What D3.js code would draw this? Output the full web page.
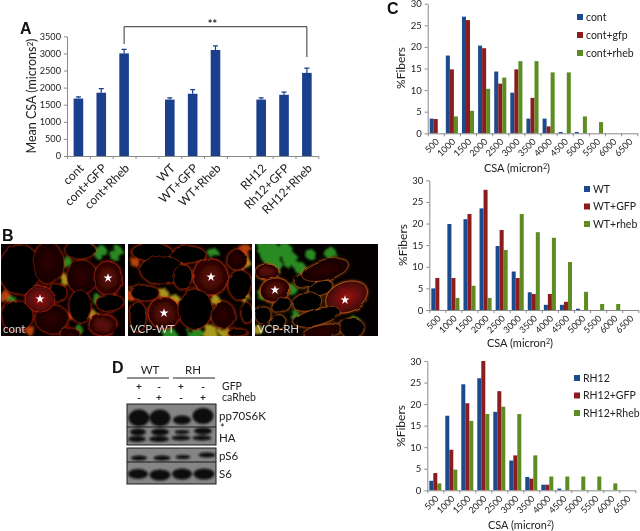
<!DOCTYPE html>
<html>
<head>
<meta charset="utf-8">
<script src="https://cdn.jsdelivr.net/npm/d3@7"></script>
<style>
  html, body { margin: 0; padding: 0; background: #fff; }
  svg { display: block; filter: blur(0.35px); }
  text { font-family: Lato, "Open Sans", sans-serif; fill: #222; }
  .letter { font-family: "Liberation Sans", Arial, sans-serif; font-weight: bold; font-size: 16px; fill: #111; }
  .axis path, .axis line { stroke: #8a8a8a; }
</style>
</head>
<body>
<svg id="fig" width="640" height="531"></svg>
<script>
// panel A
const meanCats = ["cont", "cont+GFP", "cont+Rheb", "gap1", "WT", "WT+GFP", "WT+Rheb", "gap2", "RH12", "Rh12+GFP", "RH12+Rheb"];
const meanVals = [1680, 1850, 3000, null, 1650, 1820, 3100, null, 1650, 1790, 2430];
const meanErrs = [50, 120, 120, null, 50, 120, 120, null, 50, 80, 140];
const meanTicks = [0, 500, 1000, 1500, 2000, 2500, 3000, 3500];

// panel C histograms
const bins = ["500", "1000", "1500", "2000", "2500", "3000", "3500", "4000", "4500", "5000", "5500", "6000", "6500"];
const pctTicks = [0, 5, 10, 15, 20, 25, 30];
const contVals = [3.4, 18, 27, 20.3, 14.3, 9.4, 3.4, 3.4, 0.3, 0.3, 0, 0, 0];
const contGfp = [3.3, 14.8, 26.2, 19.7, 11.5, 14.8, 8.2, 1.6, 0, 0, 0, 0, 0];
const contRheb = [0, 3.9, 5.2, 10.3, 12.9, 16.7, 16.7, 14.1, 14.1, 3.9, 2.6, 0, 0];
const wtVals = [5, 19.9, 21, 23.5, 14.8, 8.9, 4.1, 1.2, 1.2, 0.3, 0, 0, 0];
const wtGfp = [7.4, 7.4, 22.2, 27.8, 18.5, 7.4, 3.7, 3.7, 1.9, 0, 0, 0, 0];
const wtRheb = [0, 2.8, 5.6, 2.8, 13.9, 22.2, 18, 16.7, 11.1, 4.2, 1.4, 1.4, 0];
const rhVals = [2.2, 17.3, 24.6, 26, 18.2, 6.9, 3.1, 1.3, 0.4, 0, 0, 0, 0];
const rhGfp = [4, 9.4, 20.2, 30, 23, 8.1, 2.7, 1.3, 0, 0, 0, 0, 0];
const rhRheb = [1.6, 4.8, 16.1, 17.7, 19.4, 17.7, 8.1, 3.2, 3.2, 3.2, 3.2, 1.6, 0];

// panel B micrographs: fibres are [cx, cy, rx, ry, rotate, level]
const fibresCont = [[20,270,21,25,0,0],[48,263,15,21,0,1],[58,293,9,9,0,0],[17,316,16,15,0,0],[52,319,17,14,0,1],
  [40,299,15,13,0,3],[82,277,15,17,0,1],[80,306,11,16,0,0],[80,250,15,9,0,0],[108,278,14,17,0,2],[110,303,14,9,0,0],[103,325,14,11,0,2],[70,334,10,6,0,1]];
const fibresWt = [[152,252,20,9,0,0],[188,255,18,9,0,0],[162,270,22,14,0,0],[183,277,10,12,0,0],[211,277,17,18,0,2],
  [240,285,12,15,0,0],[145,293,14,8,0,0],[164,313,16,16,0,2],[195,309,17,20,0,0],[223,315,12,13,0,1],[138,317,8,15,0,0],[247,313,6,10,0,0],[238,333,10,4,0,0],[237,260,10,10,0,1]];
const fibresRh = [[267,272,12,8,0,2],[275,290,15,12,-10,2],[305,281,11,7,-5,0],[321,288,12,7,-20,0],[307,302,15,9,-10,0],[281,305,10,6,-30,0],
  [347,297,22,15,-20,3],[325,270,24,10,-15,1],[263,315,8,9,0,0],[317,317,24,8,-15,0],[278,322,8,6,-20,0],[323,331,20,6,-10,1],[352,328,12,10,0,0]];
// interstitial patches: [cx, cy, r, colour]
const green = "#2a8a20", yellow = "#a8981a", orange = "#b8420f";
const patchCont = [[90,247,4,green],[100,252,7,green],[115,255,6,green],[66,262,6,green],[97,300,5,green],[93,315,5,yellow],[65,280,5,yellow],
  [5,297,6,orange],[8,285,5,orange],[12,300,4,green],[72,315,5,orange],[30,330,5,orange],[78,328,4,green],[118,250,4,green]];
const patchWt = [[213,253,5,green],[135,262,5,orange],[163,293,5,yellow],[175,300,5,yellow],[210,332,8,yellow],[195,335,8,green],
  [243,262,7,yellow],[245,250,6,orange],[170,335,7,green],[133,295,7,orange],[215,300,5,yellow],[245,297,5,yellow],[225,333,6,yellow]];
const patchRh = [[270,253,11,green],[290,260,8,green],[275,265,7,green],[300,268,6,green],[330,253,6,green],[262,295,5,green],[292,290,5,green],
  [295,315,5,green],[258,330,5,yellow],[355,322,5,green],[262,248,6,green],[285,250,7,green],[310,254,5,green]];

// panel D blots: [cx, cy, rx, ry] of each band
const bandsTop = [[139,418,10.5,8.5],[160,418,10.5,8.5],[182,420,9,4.5],[203,416,10.5,8],
  [138,432,8,3.5],[160,432,9,3.5],[182,432,7.5,2],[203,431,9,3.5],
  [137,439,9,3],[159,439,10,3],[181,438,9.5,2.5],[202,438,9.5,2.5]];
const bandsBot = [[139,458,8,2.5],[162,458,8.5,2.5],[183,457,7.5,2],[207,455,8.5,2.5],
  [138,474,10,5],[160,475,10.5,5.5],[182,474,10,5.5],[204,474,10.5,5.5]];

const svg = d3.select("#fig");
const defs = svg.append("defs");

// rough edges for the tissue so it does not look like clean circles
function roughFilter(id, freq, scale, blur) {
  const f = defs.append("filter").attr("id", id)
    .attr("x", "-10%").attr("y", "-10%").attr("width", "120%").attr("height", "120%");
  f.append("feTurbulence").attr("type", "fractalNoise").attr("baseFrequency", freq).attr("numOctaves", 2).attr("seed", 4).attr("result", "n");
  f.append("feDisplacementMap").attr("in", "SourceGraphic").attr("in2", "n").attr("scale", scale).attr("result", "d");
  f.append("feGaussianBlur").attr("in", "d").attr("stdDeviation", blur);
}
roughFilter("patchy", 0.18, 10, 1);
roughFilter("fibre", 0.07, 4, 0.5);
roughFilter("rim", 0.07, 4, 1.2);
defs.append("filter").attr("id", "band").append("feGaussianBlur").attr("stdDeviation", 1.1);

const glow = [["glow1", "#2a0403", "#140201"], ["glow2", "#5a0a08", "#220403"], ["glow3", "#8a120e", "#3a0605"]];
glow.forEach(d => {
  const r = defs.append("radialGradient").attr("id", d[0]);
  r.append("stop").attr("offset", "20%").attr("stop-color", d[1]);
  r.append("stop").attr("offset", "100%").attr("stop-color", d[2]);
});

function letter(t, x, y) {
  svg.append("text").attr("class", "letter").attr("x", x).attr("y", y).text(t);
}

function yTitle(x, y, size, label, sup) {
  const t = svg.append("text")
    .attr("transform", `translate(${x},${y}) rotate(-90)`)
    .attr("text-anchor", "middle")
    .attr("dy", "0.35em")
    .attr("font-size", size)
    .text(label);
  if (sup) {
    t.append("tspan").attr("font-size", size * 0.65).attr("dy", "-0.45em").text("2");
    t.append("tspan").attr("dy", "0.3em").text(")");
  }
}

function xTitle(x, y, size, label) {
  const t = svg.append("text")
    .attr("x", x).attr("y", y)
    .attr("text-anchor", "middle")
    .attr("dy", "0.35em")
    .attr("font-size", size)
    .text(label);
  t.append("tspan").attr("font-size", size * 0.65).attr("dy", "-0.45em").text("2");
  t.append("tspan").attr("dy", "0.3em").text(")");
}

// Excel style category axis: tick marks sit on the band edges, labels on the centres
function catAxis(g, x, y0, labels, fontSize, dx, dy) {
  const n = x.domain().length;
  const edges = d3.scaleLinear().domain([0, n]).range(x.range());
  g.append("g").attr("class", "axis")
    .attr("transform", `translate(0,${y0})`)
    .call(d3.axisBottom(edges).tickValues(d3.range(n + 1)).tickSize(3).tickSizeOuter(0).tickFormat(""));
  g.selectAll("text.cat")
    .data(labels)
    .join("text")
      .attr("class", "cat")
      .attr("text-anchor", "end")
      .attr("font-size", fontSize)
      .attr("transform", d => `translate(${x(d[0]) + x.bandwidth() / 2 + dx},${y0 + dy}) rotate(-45)`)
      .text(d => d[1]);
}

function valAxis(g, x0, y, ticks, fontSize) {
  const ax = g.append("g").attr("class", "axis")
    .attr("transform", `translate(${x0},0)`)
    .call(d3.axisLeft(y).tickValues(ticks).tickSize(3).tickSizeOuter(0).tickFormat(d => d));
  ax.selectAll("text").attr("font-size", fontSize).attr("font-family", "Lato").attr("fill", "#222");
}

function drawMeans() {
  const g = svg.append("g");
  const x = d3.scaleBand().domain(meanCats).range([67, 318.3]).paddingInner(0.58).paddingOuter(0.29);
  const y = d3.scaleLinear().domain([0, 3500]).range([156, 36.3]);
  const rows = meanCats.map((c, i) => ({ c, v: meanVals[i], e: meanErrs[i] })).filter(d => d.v !== null);

  g.selectAll("rect.bar").data(rows).join("rect")
    .attr("class", "bar")
    .attr("x", d => x(d.c))
    .attr("y", d => y(d.v))
    .attr("width", x.bandwidth())
    .attr("height", d => y(0) - y(d.v))
    .attr("fill", "#1a3f8c");

  const mid = d => x(d.c) + x.bandwidth() / 2;
  g.selectAll("path.err").data(rows).join("path")
    .attr("class", "err")
    .attr("fill", "none")
    .attr("stroke", "#1a3f8c")
    .attr("stroke-width", 1.2)
    .attr("d", d => `M${mid(d)},${y(d.v)}V${y(d.v + d.e)}M${mid(d) - 2.5},${y(d.v + d.e)}h5`);

  valAxis(g, 67, y, meanTicks, 9.2);
  catAxis(g, x, 156, rows.map(d => [d.c, d.c]), 12, 6, 13);
  yTitle(32, 96, 12.5, "Mean CSA (microns", true);

  // significance bracket, from cont+Rheb to RH12+Rheb
  const left = x("cont+Rheb") + x.bandwidth() / 2;
  const right = x("RH12+Rheb") + x.bandwidth() / 2;
  g.append("path")
    .attr("fill", "none")
    .attr("stroke", "#333")
    .attr("stroke-width", 1)
    .attr("d", `M${left},44V26.7H${right}V57`);
  g.append("text").attr("x", (left + right) / 2 - 3).attr("y", 28)
    .attr("text-anchor", "middle").attr("font-size", 11).attr("font-weight", "bold").text("**");
}

const histColors = ["#1c4a8e", "#8c1c1e", "#5f8c22"];

function drawHist(o) {
  const g = svg.append("g");
  const x = d3.scaleBand().domain(bins).range(o.xr).paddingInner(0.25).paddingOuter(0.125);
  const sub = d3.scaleBand().domain(d3.range(3)).range([0, x.bandwidth()]);
  const y = d3.scaleLinear().domain([0, 30]).range(o.yr);

  g.selectAll("g.series").data(o.series).join("g")
    .attr("class", "series")
    .attr("fill", (d, i) => histColors[i])
    .each(function (vals, i) {
      d3.select(this).selectAll("rect")
        .data(vals.map((v, j) => [bins[j], v]).filter(d => d[1] > 0))
        .join("rect")
          .attr("x", d => x(d[0]) + sub(i))
          .attr("y", d => y(d[1]))
          .attr("width", sub.bandwidth())
          .attr("height", d => y(0) - y(d[1]));
    });

  valAxis(g, o.xr[0], y, pctTicks, 9.5);
  catAxis(g, x, o.yr[0], bins.map(b => [b, b]), 9, 4, 9);
  yTitle(o.xr[0] - 26.5, o.ty, 12, "%Fibers");
  xTitle(o.tx, o.tyb, 11, "CSA (micron");

  const lg = g.selectAll("g.lg").data(o.names).join("g")
    .attr("class", "lg")
    .attr("transform", (d, i) => `translate(${o.lx},${o.ly + i * o.lstep})`);
  lg.append("rect").attr("x", 0).attr("y", -3).attr("width", 6).attr("height", 6)
    .attr("fill", (d, i) => histColors[i]);
  lg.append("text").attr("x", 9).attr("dy", "0.35em").attr("font-size", 10.5).text(d => d);
}

function drawMicrograph(id, box, patches, fibres, edge, label, stars) {
  const [x0, y0, w, h] = box;
  defs.append("clipPath").attr("id", id).append("rect").attr("x", x0).attr("y", y0).attr("width", w).attr("height", h);
  const g = svg.append("g").attr("clip-path", `url(#${id})`);
  g.append("rect").attr("x", x0).attr("y", y0).attr("width", w).attr("height", h).attr("fill", "#040100");

  const fills = ["#050100", "url(#glow1)", "url(#glow2)", "url(#glow3)"];
  const ellipse = sel => sel
    .attr("transform", d => `translate(${d[0]},${d[1]}) rotate(${d[4]})`)
    .attr("rx", d => d[2])
    .attr("ry", d => d[3]);

  g.append("g").attr("filter", "url(#patchy)")
    .selectAll("circle").data(patches).join("circle")
      .attr("cx", d => d[0]).attr("cy", d => d[1]).attr("r", d => d[2]).attr("fill", d => d[3]);
  // soft glow of the membrane stain behind each fibre edge
  g.append("g").attr("filter", "url(#rim)")
    .selectAll("ellipse").data(fibres).join("ellipse").call(ellipse)
      .attr("fill", "none")
      .attr("stroke", edge)
      .attr("stroke-width", 2.2)
      .attr("stroke-opacity", 0.5);
  g.append("g").attr("filter", "url(#fibre)")
    .selectAll("ellipse").data(fibres).join("ellipse").call(ellipse)
      .attr("fill", d => fills[d[5]])
      .attr("stroke", edge)
      .attr("stroke-width", 0.8)
      .attr("stroke-opacity", d => d[5] >= 2 ? 0.85 : 0.6);

  g.append("g").selectAll("path").data(stars).join("path")
    .attr("transform", d => `translate(${d[0]},${d[1]})`)
    .attr("d", d3.symbol(d3.symbolStar, 26))
    .attr("fill", "#fff");

  g.append("text").attr("x", x0 + 2).attr("y", y0 + h - 3)
    .attr("font-size", 11.5).style("fill", "#d8d8d8").text(label);
}

function drawBlotBox(id, box, split, bands) {
  const [x0, y0, w, h] = box;
  defs.append("clipPath").attr("id", id).append("rect").attr("x", x0).attr("y", y0).attr("width", w).attr("height", h);
  const g = svg.append("g");
  g.append("rect").attr("x", x0).attr("y", y0).attr("width", w).attr("height", h).attr("fill", "#858585");
  g.append("g").attr("clip-path", `url(#${id})`).append("g").attr("filter", "url(#band)")
    .selectAll("ellipse").data(bands).join("ellipse")
      .attr("cx", d => d[0]).attr("cy", d => d[1]).attr("rx", d => d[2]).attr("ry", d => d[3])
      .attr("fill", "#0b0b0b");
  g.append("rect").attr("x", x0).attr("y", y0).attr("width", w).attr("height", h)
    .attr("fill", "none").attr("stroke", "#1c1c1c").attr("stroke-width", 1);
  g.append("line").attr("x1", x0).attr("x2", x0 + w).attr("y1", split).attr("y2", split)
    .attr("stroke", "#1c1c1c").attr("stroke-width", 1);
}

function drawBlots() {
  const g = svg.append("g");
  const cols = [139, 159, 181, 203];
  const small = (t, x, y, size, weight) => g.append("text").attr("x", x).attr("y", y).attr("dy", "0.35em")
    .attr("font-size", size).attr("font-weight", weight).attr("text-anchor", "middle").text(t);

  small("WT", 150, 370, 11.5, "normal");
  small("RH", 193, 370, 11.5, "normal");
  [[127, 169], [173, 215]].forEach(d => {
    g.append("line").attr("x1", d[0]).attr("x2", d[1]).attr("y1", 378).attr("y2", 378)
      .attr("stroke", "#222").attr("stroke-width", 1);
  });
  ["+", "-", "+", "-"].forEach((s, i) => small(s, cols[i], 386, 10, "bold"));
  ["-", "+", "-", "+"].forEach((s, i) => small(s, cols[i], 397, 10, "bold"));

  drawBlotBox("blotA", [127, 404, 89, 41], 427, bandsTop);
  drawBlotBox("blotB", [127, 448, 89, 36], 462, bandsBot);

  const side = (t, x, y, size) => g.append("text").attr("x", x).attr("y", y).attr("dy", "0.35em").attr("font-size", size).text(t);
  side("GFP", 222, 386, 10.5);
  side("caRheb", 222, 397, 10.5);
  side("pp70S6K", 219, 416, 11.5);
  side("*", 220, 428, 11);
  side("HA", 219, 438, 11.5);
  side("pS6", 219, 456, 11.5);
  side("S6", 219, 474, 11.5);
}

drawMeans();
drawHist({ xr: [427.7, 637.3], yr: [133.3, 3.7], series: [contVals, contGfp, contRheb], names: ["cont", "cont+gfp", "cont+rheb"],
  ty: 68, tx: 517, tyb: 168, lx: 577, ly: 17, lstep: 18 });
drawHist({ xr: [429.3, 638.3], yr: [310, 180.3], series: [wtVals, wtGfp, wtRheb], names: ["WT", "WT+GFP", "WT+rheb"],
  ty: 245, tx: 520, tyb: 343, lx: 584, ly: 189, lstep: 17.5 });
drawHist({ xr: [427.3, 635.3], yr: [490.3, 361], series: [rhVals, rhGfp, rhRheb], names: ["RH12", "RH12+GFP", "RH12+Rheb"],
  ty: 426, tx: 521, tyb: 525, lx: 574, ly: 378, lstep: 17.5 });

drawMicrograph("m1", [1, 244, 124, 92], patchCont, fibresCont, "#c8200f", "cont", [[40, 299], [108, 278]]);
drawMicrograph("m2", [128, 244, 124, 92], patchWt, fibresWt, "#d4300f", "VCP-WT", [[211, 277], [164, 313]]);
drawMicrograph("m3", [255, 244, 123, 92], patchRh, fibresRh, "#d8641c", "VCP-RH", [[275, 290], [345, 300]]);
drawBlots();

letter("A", 20, 34);
letter("B", 2, 241);
letter("C", 387, 14);
letter("D", 112, 373);
</script>
</body>
</html>
